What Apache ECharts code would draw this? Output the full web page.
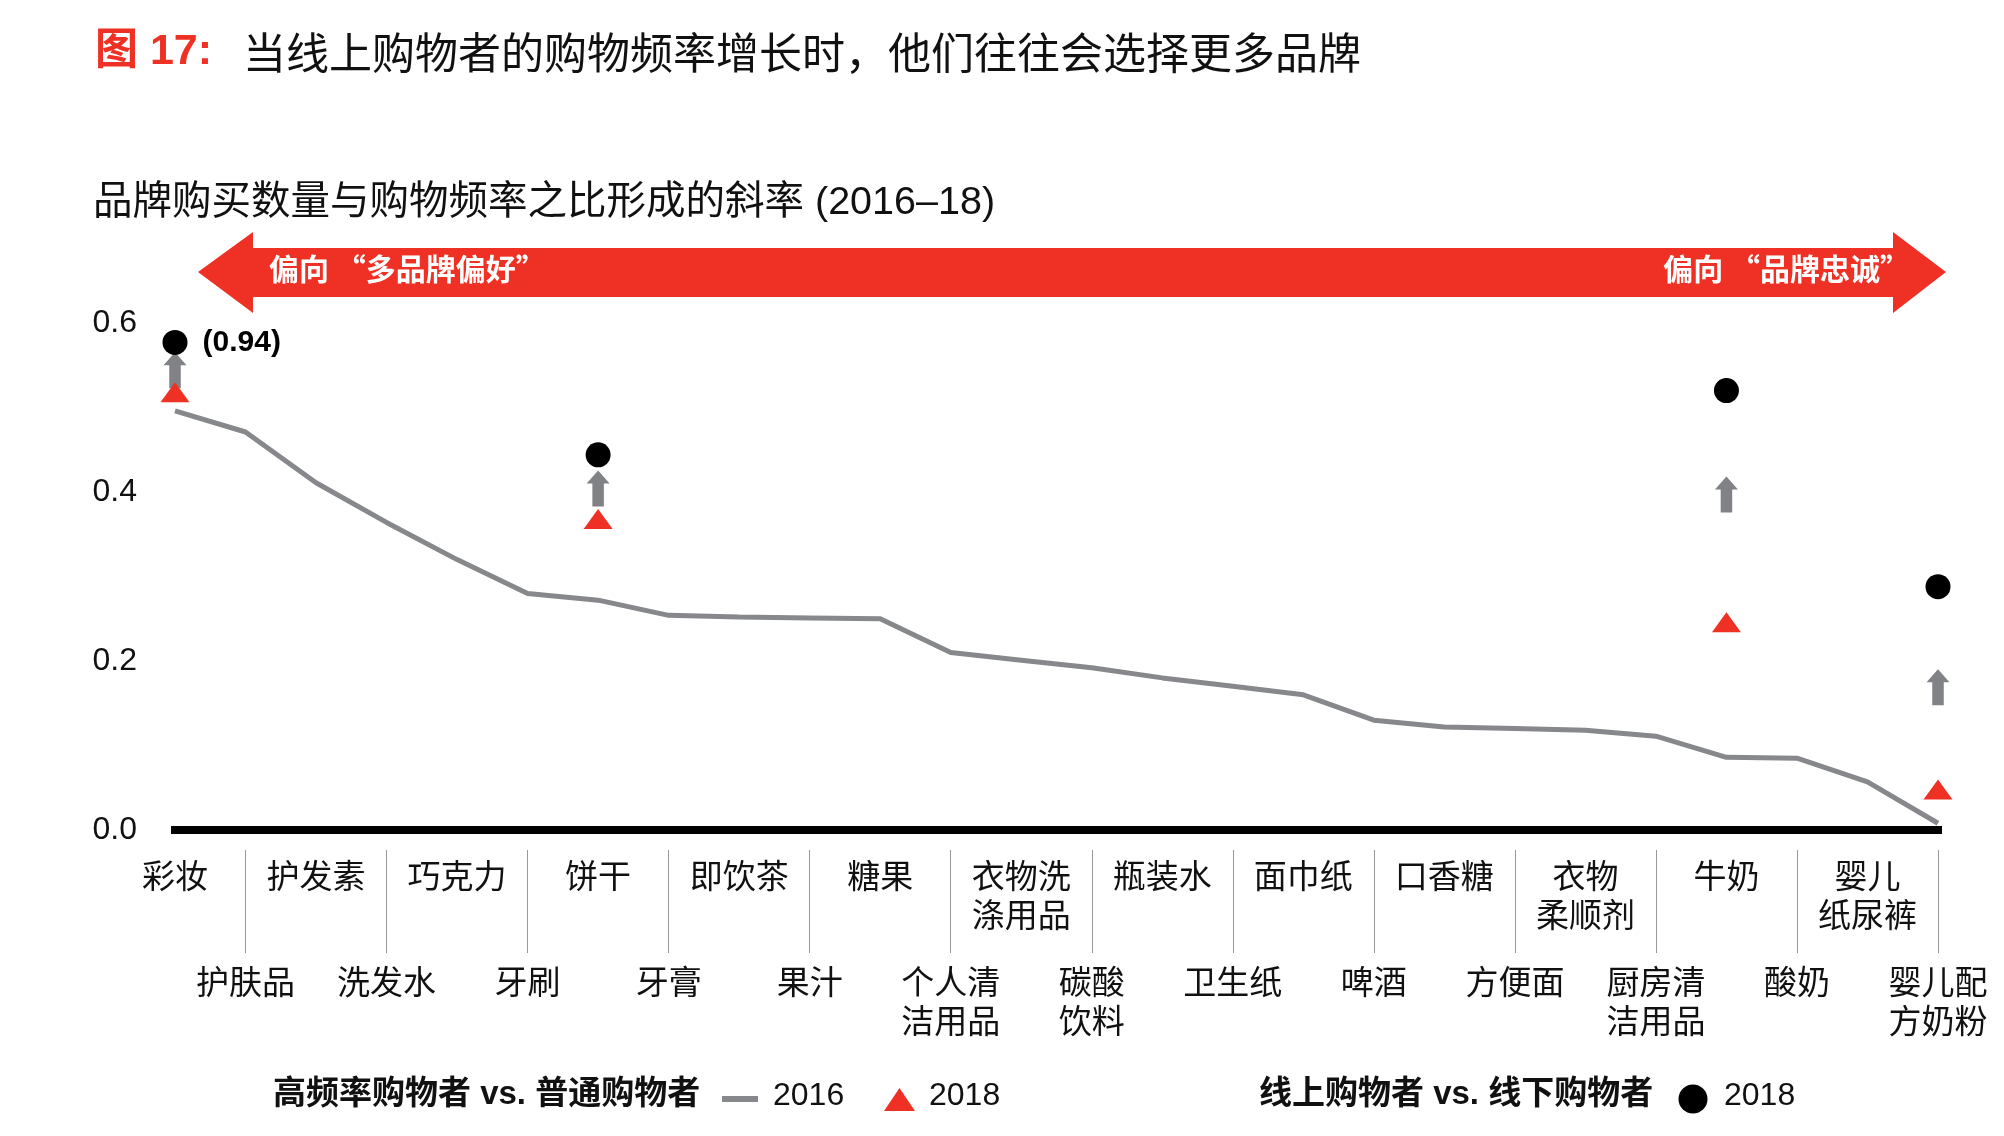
<!DOCTYPE html>
<html>
<head>
<meta charset="utf-8">
<title>图 17</title>
<script src="https://cdn.jsdelivr.net/npm/echarts@6/dist/echarts.min.js"></script>
<style>
  html, body { margin: 0; padding: 0; background: #fff; }
  #chart { width: 2004px; height: 1136px; }
</style>
</head>
<body>
<div id="chart"></div>
<script>
// 品类，按2016年斜率从高到低
const categories = ['彩妆', '护肤品', '护发素', '洗发水', '巧克力', '牙刷', '饼干', '牙膏', '即饮茶', '果汁',
  '糖果', '个人清洁用品', '衣物洗涤用品', '碳酸饮料', '瓶装水', '卫生纸', '面巾纸', '啤酒', '口香糖', '方便面',
  '衣物柔顺剂', '厨房清洁用品', '牛奶', '酸奶', '婴儿纸尿裤', '婴儿配方奶粉'];

// 高频率购物者 vs. 普通购物者，2016
const slope2016 = [0.496, 0.471, 0.411, 0.364, 0.320, 0.280, 0.272, 0.254, 0.252, 0.251,
  0.250, 0.210, 0.201, 0.192, 0.180, 0.170, 0.160, 0.130, 0.122, 0.120,
  0.118, 0.111, 0.086, 0.085, 0.057, 0.008];

// 只有这几个品类标出了2018年的值
const markedCats = ['彩妆', '饼干', '牛奶', '婴儿配方奶粉'];
const freq2018 = [0.518, 0.368, 0.246, 0.048];     // 高频率 vs. 普通，2018
const online2018 = [0.577, 0.444, 0.520, 0.288];   // 线上 vs. 线下，2018（彩妆实际为0.94，截顶画出）
const onlineLabels = ['(0.94)', '', '', ''];
const arrowPos = [0.544, 0.404, 0.397, 0.169];     // 灰色箭头的位置

const yMin = 0, yMax = 0.6, yStep = 0.2;

const RED = '#EE3124';
const GREY = '#86888B';
const CJK = '"Noto Sans CJK SC"';
const LATIN = '"Liberation Sans", "Noto Sans CJK SC"';

// 长名称折成两行
function wrap(name) {
  if (name.length <= 3) return name;
  let k = Math.floor(name.length / 2);
  return name.slice(0, k) + '\n' + name.slice(k);
}

const upArrow = 'path://M11.5,0 L23,13 L17.25,13 L17.25,36 L5.75,36 L5.75,13 L0,13 Z';

const chart = echarts.init(document.getElementById('chart'));

const labelBase = {
  fontFamily: CJK,
  fontSize: 33,
  lineHeight: 39,
  color: '#111',
  align: 'center'
};

chart.setOption({
  animation: false,
  backgroundColor: '#fff',
  grid: { left: 175, right: 66, top: 323, bottom: 306 },
  xAxis: [{
    // 粗黑基线 + 上排标签
    type: 'category',
    position: 'bottom',
    data: categories,
    boundaryGap: false,
    offset: 4,
    axisLine: { lineStyle: { color: '#000', width: 8, cap: 'square' } },
    axisTick: { show: false },
    axisLabel: Object.assign({
      interval: (i) => i % 2 === 0,
      margin: 22,
      formatter: wrap
    }, labelBase)
  }, {
    // 分隔竖线 + 下排标签
    type: 'category',
    position: 'bottom',
    data: categories,
    boundaryGap: false,
    offset: 20,
    axisLine: { show: false },
    axisTick: {
      show: true,
      interval: (i) => i % 2 === 1,
      length: 103,
      lineStyle: { color: '#999', width: 1 }
    },
    axisLabel: Object.assign({
      interval: (i) => i % 2 === 1,
      margin: 112,
      formatter: wrap
    }, labelBase)
  }],
  yAxis: {
    type: 'value',
    min: yMin,
    max: yMax,
    interval: yStep,
    axisLine: { show: false },
    axisTick: { show: false },
    splitLine: { show: false },
    axisLabel: {
      margin: 38,
      fontFamily: LATIN,
      fontSize: 32,
      color: '#111',
      formatter: (v) => v.toFixed(1)
    }
  },
  series: [{
    name: '2016',
    type: 'line',
    xAxisIndex: 0,
    data: slope2016,
    symbol: 'none',
    lineStyle: { color: GREY, width: 5 },
    z: 2
  }, {
    name: '箭头',
    type: 'scatter',
    xAxisIndex: 0,
    data: markedCats.map((c, i) => [c, arrowPos[i]]),
    symbol: upArrow,
    symbolSize: [23, 36],
    symbolKeepAspect: false,
    itemStyle: { color: '#808285', opacity: 1 },
    z: 3
  }, {
    name: '2018 高频率',
    type: 'scatter',
    xAxisIndex: 0,
    data: markedCats.map((c, i) => [c, freq2018[i]]),
    symbol: 'triangle',
    symbolSize: [29, 20],
    itemStyle: { color: RED, opacity: 1 },
    z: 4
  }, {
    name: '2018 线上',
    type: 'scatter',
    xAxisIndex: 0,
    data: markedCats.map((c, i) => [c, online2018[i]]),
    symbol: 'circle',
    symbolSize: 25,
    itemStyle: { color: '#000', opacity: 1 },
    label: {
      show: true,
      position: 'right',
      distance: 15,
      formatter: (p) => onlineLabels[p.dataIndex],
      fontFamily: LATIN,
      fontWeight: 'bold',
      fontSize: 30,
      color: '#000'
    },
    z: 5
  }],
  graphic: [
    // 标题
    { type: 'text', left: 95, top: 31,
      style: { text: '图 17:', fill: RED, font: 'bold 43px ' + LATIN } },
    { type: 'text', left: 243, top: 31,
      style: { text: '当线上购物者的购物频率增长时，他们往往会选择更多品牌', fill: '#111', font: '43px ' + CJK } },
    { type: 'text', left: 93, top: 183,
      style: { text: '品牌购买数量与购物频率之比形成的斜率 (2016–18)', fill: '#111', font: '39.5px ' + LATIN } },
    // 红色双向箭头
    { type: 'polygon', z: 1,
      shape: { points: [[198, 272], [253, 232], [253, 248], [1893, 248], [1893, 232], [1946, 272],
        [1893, 313], [1893, 297], [253, 297], [253, 313]] },
      style: { fill: RED } },
    { type: 'text', z: 2, left: 269, top: 254,
      style: { text: '偏向 “多品牌偏好”', fill: '#fff', font: 'bold 30px ' + CJK } },
    { type: 'text', z: 2, right: 94, top: 254,
      style: { text: '偏向 “品牌忠诚”', fill: '#fff', font: 'bold 30px ' + CJK } },
    // 图例
    { type: 'text', left: 273, top: 1078,
      style: { text: '高频率购物者 vs. 普通购物者', fill: '#111', font: 'bold 33px ' + LATIN } },
    { type: 'line', shape: { x1: 722, y1: 1099, x2: 758, y2: 1099 },
      style: { stroke: GREY, lineWidth: 6 } },
    { type: 'text', left: 773, top: 1080,
      style: { text: '2016', fill: '#111', font: '32px ' + LATIN } },
    { type: 'polygon', shape: { points: [[884, 1111], [899.5, 1088], [915, 1111]] },
      style: { fill: RED } },
    { type: 'text', left: 929, top: 1080,
      style: { text: '2018', fill: '#111', font: '32px ' + LATIN } },
    { type: 'text', left: 1259, top: 1078,
      style: { text: '线上购物者 vs. 线下购物者', fill: '#111', font: 'bold 33px ' + LATIN } },
    { type: 'circle', shape: { cx: 1693, cy: 1099, r: 14.5 },
      style: { fill: '#000' } },
    { type: 'text', left: 1724, top: 1080,
      style: { text: '2018', fill: '#111', font: '32px ' + LATIN } }
  ]
});
</script>
</body>
</html>
